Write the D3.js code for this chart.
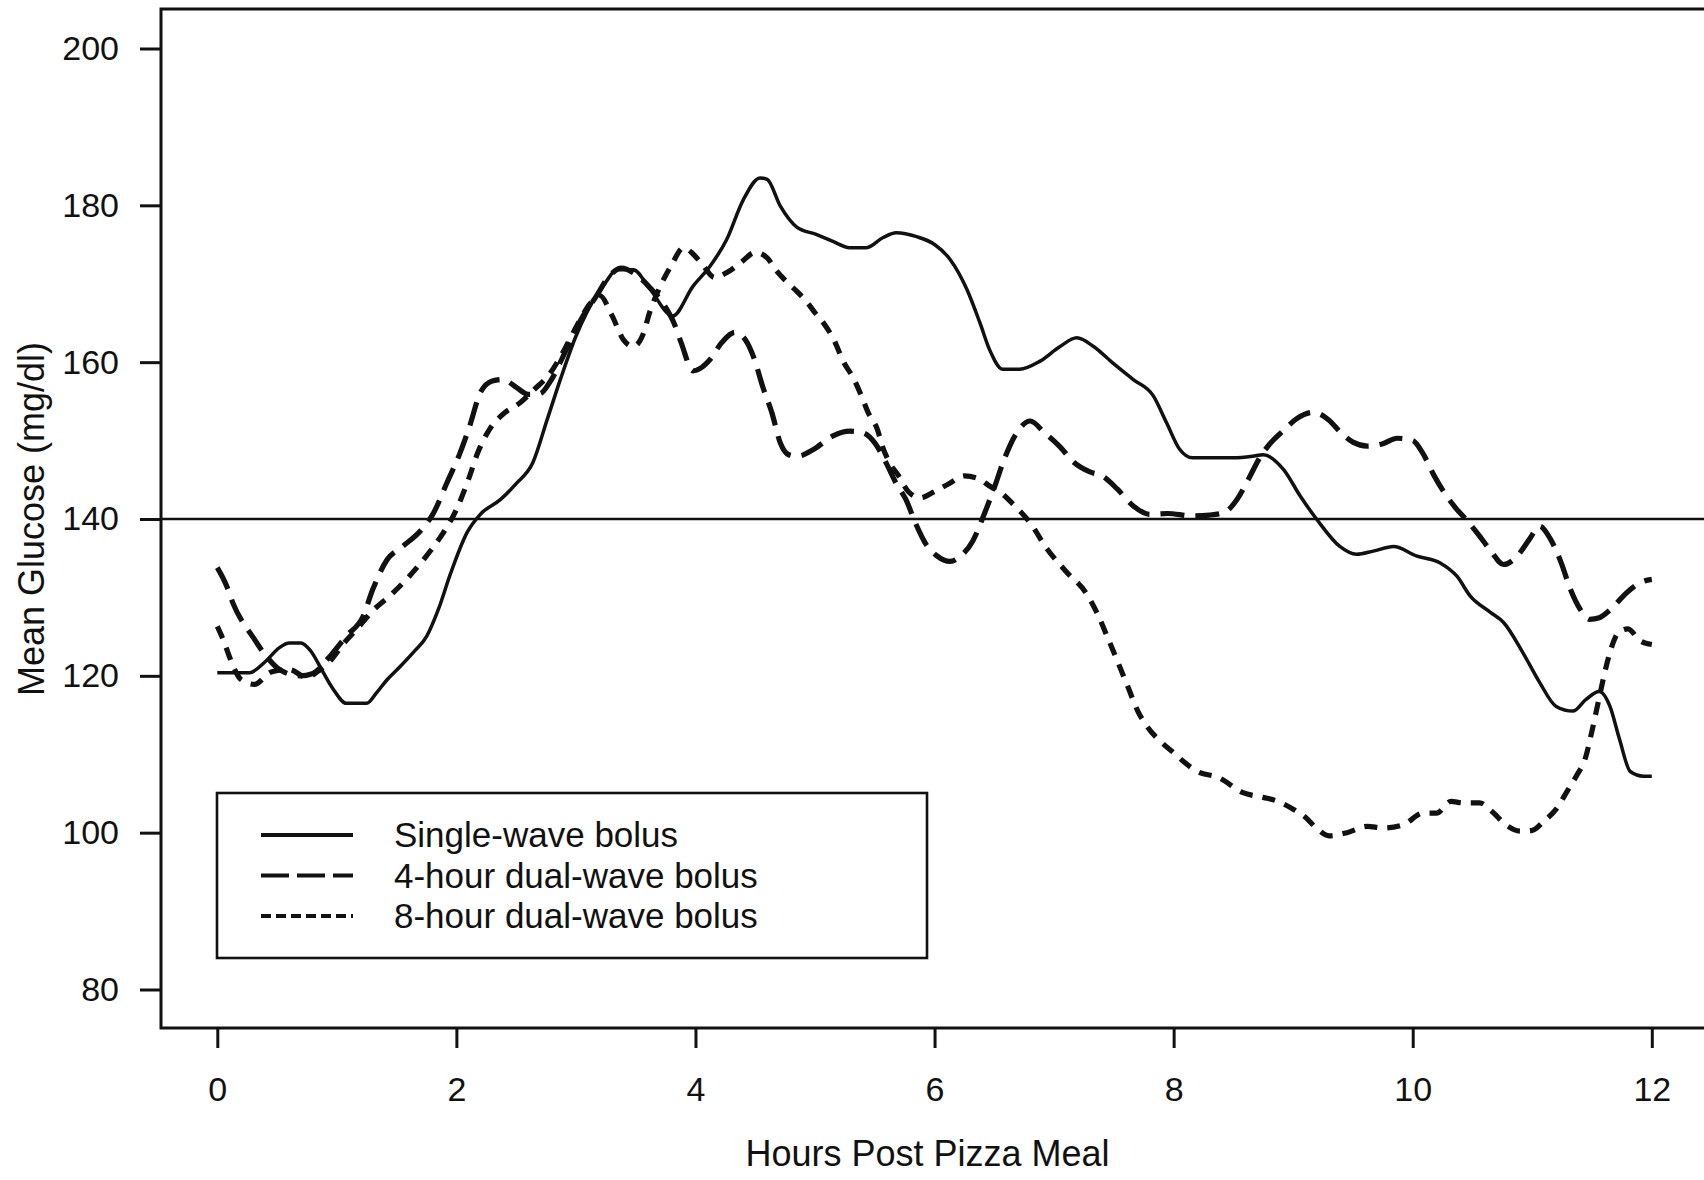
<!DOCTYPE html>
<html>
<head>
<meta charset="utf-8">
<script src="https://cdn.jsdelivr.net/npm/d3@7"></script>
<style>
  html, body { margin: 0; padding: 0; background: #ffffff; }
  svg { display: block; font-family: "Liberation Sans", Arial, sans-serif; }
</style>
</head>
<body>
<svg id="chart" width="1704" height="1180"></svg>
<script>
// Mean glucose after a pizza meal under three insulin bolus strategies.
// Each series is a list of [hours, mg/dl] readings.
const singleWave = [
  [0,120.4],[0.27,120.4],[0.4,121.8],[0.52,123.6],[0.6,124.2],[0.7,124.2],[0.78,123.2],
  [0.88,120.6],[0.97,118.3],[1.08,116.5],[1.25,116.5],[1.33,117.8],[1.42,119.5],[1.53,121.2],
  [1.64,123],[1.75,125],[1.85,128.5],[1.95,133],[2.09,138.3],[2.2,140.6],[2.37,142.5],
  [2.5,144.5],[2.64,147.2],[2.76,152.7],[2.87,157.8],[3.0,163.3],[3.09,166.3],[3.17,168.5],
  [3.25,170.2],[3.34,171.8],[3.48,171.8],[3.62,169.3],[3.81,165.9],[3.98,169.7],[4.12,172.2],
  [4.26,175.6],[4.4,180.7],[4.54,183.5],[4.6,183.3],[4.71,179.9],[4.85,177.2],[5.01,176.3],
  [5.15,175.4],[5.29,174.6],[5.43,174.6],[5.57,175.9],[5.68,176.5],[5.85,176],[6.0,175],
  [6.13,173.1],[6.27,169.3],[6.38,165],[6.46,161.6],[6.57,159.1],[6.71,159.1],[6.88,160.1],
  [7.05,162],[7.19,163.1],[7.33,162],[7.49,159.9],[7.66,157.8],[7.83,155.7],[7.94,152.3],
  [8.05,148.9],[8.16,147.8],[8.5,147.8],[8.66,148],[8.75,148.2],[8.92,146.3],[9.06,142.9],
  [9.2,139.9],[9.39,136.5],[9.53,135.5],[9.67,135.9],[9.84,136.5],[10.03,135.3],[10.23,134.4],
  [10.37,132.7],[10.48,130.2],[10.65,128.1],[10.76,126.8],[10.92,123],[11.06,119.2],
  [11.2,116.1],[11.34,115.5],[11.45,117],[11.56,118],[11.65,116.1],[11.73,111.9],
  [11.82,107.8],[11.93,107.2],[12.0,107.2]
];

const dualWave4h = [
  [0,133.8],[0.08,131.4],[0.13,129.3],[0.3,124.9],[0.41,122.5],[0.52,120.8],[0.69,120],
  [0.8,120.3],[0.92,122.1],[1.08,125.1],[1.22,127.6],[1.3,131],[1.42,134.8],[1.55,136.5],
  [1.7,138.5],[1.81,140.8],[1.92,144.6],[2.03,148.4],[2.11,151.8],[2.2,156.1],[2.3,157.6],
  [2.39,157.8],[2.5,156.8],[2.6,155.9],[2.7,156],[2.78,157.4],[2.92,161.6],[3.06,165.9],
  [3.17,168.4],[3.27,170.8],[3.38,172],[3.5,171.2],[3.62,169.5],[3.75,167],[3.82,165],
  [3.88,162.5],[3.98,158.9],[4.05,159.3],[4.12,160.3],[4.22,162.5],[4.33,163.8],[4.42,162.8],
  [4.49,160.5],[4.56,157],[4.64,153.5],[4.71,149.7],[4.78,148.2],[4.85,148],[4.99,148.9],
  [5.15,150.6],[5.29,151.2],[5.4,151],[5.5,149.7],[5.6,147],[5.68,144.5],[5.76,142.5],
  [5.84,139.5],[5.92,137],[6.02,135.3],[6.13,134.6],[6.22,135.3],[6.32,137.2],[6.42,140.8],
  [6.5,144],[6.58,147.5],[6.68,150.8],[6.8,152.5],[6.92,151],[7.05,149.2],[7.16,147.3],
  [7.3,146],[7.4,145.5],[7.53,143.8],[7.66,141.7],[7.8,140.6],[7.95,140.7],[8.15,140.4],
  [8.3,140.5],[8.42,140.8],[8.53,142.5],[8.63,145.2],[8.72,147.8],[8.8,149.5],[8.92,151.3],
  [9.03,152.8],[9.17,153.6],[9.3,152.6],[9.4,151],[9.5,149.8],[9.62,149.3],[9.75,149.6],
  [9.87,150.3],[10.0,150],[10.08,148.5],[10.18,145.5],[10.28,143],[10.36,141.4],[10.46,139.7],
  [10.55,138],[10.65,136],[10.76,134.2],[10.87,135.2],[10.98,137.5],[11.06,139.1],
  [11.15,137.5],[11.24,134.5],[11.32,131],[11.4,128.5],[11.48,127.2],[11.56,127.4],
  [11.65,128.4],[11.79,130.6],[11.92,132],[12,132.3]
];

const dualWave8h = [
  [0,126.3],[0.06,124.2],[0.1,122.5],[0.2,119.5],[0.31,118.9],[0.45,120.5],[0.6,120.8],
  [0.75,119.8],[0.86,120.8],[0.95,122],[1.05,124],[1.17,126],[1.3,128.3],[1.45,130.3],
  [1.6,132.6],[1.75,135.3],[1.88,138],[2.0,141.2],[2.1,145],[2.18,148.5],[2.28,151.5],
  [2.4,153.5],[2.53,154.8],[2.65,156.5],[2.78,158.5],[2.9,161.5],[3.02,165],[3.12,167.5],
  [3.2,168.5],[3.3,166],[3.4,162.8],[3.48,162],[3.56,163.5],[3.62,166.5],[3.7,169.5],
  [3.8,172.4],[3.9,174.6],[3.98,173.8],[4.06,172.4],[4.16,170.8],[4.27,171.5],[4.38,172.7],
  [4.5,174],[4.6,173.3],[4.68,171.6],[4.76,170.3],[4.85,169],[4.93,167.7],[5.0,166.3],
  [5.08,164.8],[5.16,162.8],[5.24,160],[5.32,158],[5.38,156],[5.45,153.4],[5.52,151.5],
  [5.57,149],[5.63,147],[5.7,145.5],[5.78,143.5],[5.88,142.7],[6.0,143.5],[6.12,144.5],
  [6.25,145.5],[6.36,145.2],[6.46,144.2],[6.56,143.3],[6.65,142],[6.8,139.5],[6.94,136.2],
  [7.1,133.3],[7.27,130.5],[7.36,128],[7.45,124.8],[7.54,121.5],[7.62,118.5],[7.7,115.5],
  [7.78,113.5],[7.9,111.5],[8.0,110.2],[8.08,109.1],[8.2,107.8],[8.38,107],[8.58,105.1],
  [8.75,104.5],[8.87,104],[9.0,103],[9.1,102],[9.2,100.5],[9.3,99.6],[9.45,100],[9.62,100.8],
  [9.75,100.6],[9.92,101],[10.09,102.5],[10.2,102.5],[10.32,104],[10.42,103.8],[10.56,103.8],
  [10.67,102.6],[10.78,101],[10.9,100.2],[11.0,100.3],[11.1,101.5],[11.2,103],[11.3,105.5],
  [11.38,107.5],[11.44,109.3],[11.5,113],[11.55,116.5],[11.6,120],[11.66,123.5],[11.72,125.5],
  [11.8,126],[11.9,124.5],[12.0,124]
];

const seriesNames = ["Single-wave bolus", "4-hour dual-wave bolus", "8-hour dual-wave bolus"];
const xTicks = [0, 2, 4, 6, 8, 10, 12];
const yTicks = [80, 100, 120, 140, 160, 180, 200];
const targetGlucose = 140;
const xTitle = "Hours Post Pizza Meal";
const yTitle = "Mean Glucose (mg/dl)";

// Layout
const W = 1704, H = 1180;
const frame = { left: 161, top: 9, right: 1720, bottom: 1028 };
const ink = "#111111";

const x = d3.scaleLinear().domain([0, 12]).range([217.3, 1651.8]);
const y = d3.scaleLinear().domain([80, 200]).range([989.5, 48.5]);

const svg = d3.select("#chart");
svg.append("rect").attr("width", W).attr("height", H).attr("fill", "#ffffff");

// Plot frame
svg.append("rect")
  .attr("x", frame.left).attr("y", frame.top)
  .attr("width", frame.right - frame.left).attr("height", frame.bottom - frame.top)
  .attr("fill", "none").attr("stroke", ink).attr("stroke-width", 3);

// Axes
const yAxis = svg.append("g")
  .attr("transform", `translate(${frame.left},0)`)
  .call(d3.axisLeft(y).tickValues(yTicks).tickSize(21).tickPadding(21).tickFormat(d3.format("d")));
const xAxis = svg.append("g")
  .attr("transform", `translate(0,${frame.bottom})`)
  .call(d3.axisBottom(x).tickValues(xTicks).tickSize(20).tickPadding(29).tickFormat(d3.format("d")));

[yAxis, xAxis].forEach(g => {
  g.select(".domain").remove();
  g.selectAll(".tick line").attr("stroke", ink).attr("stroke-width", 3);
  g.selectAll(".tick text")
    .attr("fill", ink)
    .style("font-size", "34px")
    .style("font-family", "'Liberation Sans', Arial, sans-serif");
});

// Target glucose reference line
svg.append("line")
  .attr("x1", frame.left).attr("x2", W)
  .attr("y1", y(targetGlucose)).attr("y2", y(targetGlucose))
  .attr("stroke", ink).attr("stroke-width", 2.6);

// Series
const styles = [
  { data: singleWave, dash: null, width: 3.5 },
  { data: dualWave4h, dash: "24,11", width: 5.2 },
  { data: dualWave8h, dash: "13,10", width: 5.2 }
];

const line = d3.line()
  .x(d => x(d[0]))
  .y(d => y(d[1]))
  .curve(d3.curveMonotoneX);

styles.forEach(s => {
  svg.append("path")
    .datum(s.data)
    .attr("d", line)
    .attr("fill", "none")
    .attr("stroke", ink)
    .attr("stroke-width", s.width)
    .attr("stroke-linejoin", "round")
    .attr("stroke-dasharray", s.dash);
});

// Legend
const legend = svg.append("g").attr("transform", "translate(217,793)");
legend.append("rect")
  .attr("width", 710).attr("height", 165)
  .attr("fill", "#ffffff").attr("stroke", ink).attr("stroke-width", 2.6);
const legendDash = [null, "28,8", "10,5"];
seriesNames.forEach((name, i) => {
  const row = legend.append("g").attr("transform", `translate(0,${42 + i * 40.5})`);
  row.append("line")
    .attr("x1", 44).attr("x2", 136)
    .attr("stroke", ink).attr("stroke-width", 4.2)
    .attr("stroke-dasharray", legendDash[i]);
  row.append("text")
    .attr("x", 177).attr("dy", "0.35em")
    .attr("fill", ink)
    .style("font-size", "35px")
    .text(name);
});

// Axis titles
svg.append("text")
  .attr("x", (frame.left + W) / 2 - 5).attr("y", 1166)
  .attr("text-anchor", "middle")
  .attr("fill", ink)
  .style("font-size", "36px")
  .text(xTitle);

svg.append("text")
  .attr("transform", `translate(44,${(y(80) + y(200)) / 2}) rotate(-90)`)
  .attr("text-anchor", "middle")
  .attr("fill", ink)
  .style("font-size", "36px")
  .text(yTitle);
</script>
</body>
</html>
